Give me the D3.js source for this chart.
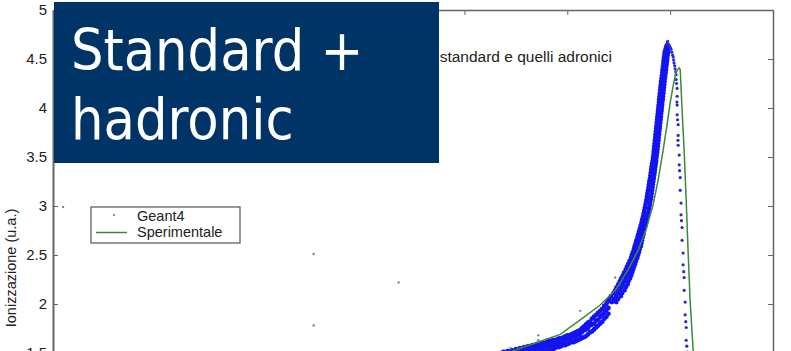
<!DOCTYPE html>
<html><head><meta charset="utf-8">
<script src="https://cdn.jsdelivr.net/npm/d3@7"></script>
<style>html,body{margin:0;padding:0;background:#fff;overflow:hidden}</style>
</head><body>
<svg id="chart" width="791" height="351"></svg>
<script>
// ---------- data ----------
const xTicks = [0, 5, 10, 15, 20, 25, 30, 35];
const yTicks = [1.5, 2, 2.5, 3, 3.5, 4, 4.5, 5];
const titleText = "standard e quelli adronici";
const yLabel = "Ionizzazione (u.a.)";
const legendLabels = ["Geant4", "Sperimentale"];
const overlayLines = ["Standard +", "hadronic"];

// Geant4, low part of the rising band: [x, y1, y2, ...]
const geantLow = [
  [21.4,1.41,1.45,1.48],[21.6,1.43,1.46,1.49],[21.8,1.43,1.47,1.50],[21.9,1.44,1.46,1.51],
  [22.0,1.42,1.48,1.50],[22.1,1.45,1.47,1.52],[22.2,1.44,1.49,1.51],[22.3,1.45,1.48,1.53],
  [22.4,1.46,1.50,1.52],[22.5,1.44,1.49,1.54],[22.6,1.47,1.51,1.53],[22.7,1.45,1.50,1.55],
  [22.8,1.47,1.52,1.54],[22.9,1.48,1.51,1.56],[23.0,1.47,1.53,1.56],[23.1,1.49,1.52,1.57],
  [23.2,1.48,1.54,1.56],[23.3,1.50,1.53,1.58],[23.4,1.49,1.54,1.57],[23.5,1.50,1.55,1.59],
  [23.6,1.51,1.54,1.58],[23.7,1.50,1.56,1.59],[23.8,1.52,1.55,1.60],[23.9,1.51,1.57,1.60],
  [24.0,1.53,1.56,1.61],[24.1,1.52,1.58,1.62],[24.2,1.54,1.57,1.62],[24.3,1.53,1.59,1.63],
  [24.4,1.55,1.58,1.63],[24.5,1.56,1.61,1.64],[24.6,1.56,1.60,1.65],[24.7,1.57,1.62,1.65],
  [24.8,1.58,1.61,1.66],[24.9,1.58,1.63,1.67],[25.0,1.59,1.64,1.68],[25.1,1.60,1.65,1.68],
  [25.2,1.61,1.64,1.69],[25.3,1.61,1.67,1.70],[25.4,1.62,1.66,1.71],[25.5,1.63,1.69,1.72],
  [25.6,1.64,1.68,1.73],[25.7,1.65,1.71,1.75],[25.8,1.66,1.73,1.77],[25.9,1.67,1.74,1.79],
  [26.0,1.69,1.75,1.81],[26.1,1.71,1.78,1.82],[26.2,1.72,1.79,1.85],[26.3,1.74,1.80,1.87],
  [26.4,1.76,1.83,1.89],[26.5,1.78,1.84,1.91],[26.6,1.80,1.87,1.93],[26.7,1.82,1.89,1.95],
  [26.8,1.85,1.91,1.98],[26.9,1.87,1.94,2.00],[27.0,1.90,1.96,2.03]
];
// Geant4, steep part of the rising band: [y, x1, x2, ...]
const geantSteep = [
  [2.02,26.95,27.17,27.38],[2.05,27.05,27.27,27.47],[2.08,27.12,27.37,27.60],[2.11,27.25,27.47,27.66],
  [2.14,27.33,27.55,27.78],[2.17,27.40,27.63,27.84],[2.20,27.48,27.70,27.93],[2.23,27.55,27.77,27.97],
  [2.26,27.62,27.83,28.05],[2.29,27.70,27.90,28.10],[2.32,27.76,27.96,28.15],[2.35,27.84,28.02,28.20],
  [2.38,27.90,28.08,28.25],[2.41,27.97,28.14,28.30],[2.44,28.03,28.19,28.34],[2.47,28.10,28.25,28.40],
  [2.50,28.14,28.30,28.44],[2.53,28.19,28.34,28.49],[2.56,28.24,28.38,28.52],[2.59,28.28,28.43,28.57],
  [2.62,28.33,28.46,28.60],[2.65,28.36,28.50,28.63],[2.68,28.41,28.54,28.66],[2.71,28.45,28.57,28.70],
  [2.74,28.49,28.61,28.72],[2.77,28.53,28.65,28.76],[2.80,28.57,28.69,28.80],[2.83,28.61,28.72,28.83],
  [2.86,28.64,28.75,28.86],[2.89,28.68,28.79,28.89],
  [2.92,28.71,28.92],[2.95,28.74,28.95],[2.98,28.77,28.98],[3.01,28.80,29.01],[3.04,28.83,29.03],
  [3.07,28.86,29.06],[3.10,28.88,29.08],[3.13,28.90,29.10],[3.16,28.93,29.12],[3.19,28.95,29.14],
  [3.22,28.97,29.16],[3.25,28.99,29.18],[3.28,29.02,29.20],[3.31,29.04,29.22],[3.34,29.06,29.24],
  [3.37,29.08,29.26],[3.40,29.10,29.28],[3.43,29.12,29.30],[3.46,29.15,29.32],[3.49,29.17,29.33],
  [3.52,29.19,29.35],[3.55,29.20,29.37],[3.58,29.22,29.38],[3.61,29.23,29.40],[3.64,29.25,29.41],
  [3.67,29.26,29.43],[3.70,29.28,29.44],[3.73,29.29,29.46],[3.76,29.31,29.47],[3.79,29.32,29.49],
  [3.82,29.34,29.50],[3.85,29.35,29.52],[3.88,29.37,29.53],[3.91,29.38,29.55],[3.94,29.40,29.56],
  [3.97,29.41,29.58],[4.00,29.43,29.59],[4.03,29.44,29.61],[4.06,29.46,29.62],[4.09,29.47,29.64],
  [4.12,29.49,29.65],[4.15,29.50,29.67],[4.18,29.52,29.68],[4.21,29.53,29.70],[4.24,29.55,29.71],
  [4.27,29.56,29.73],[4.30,29.58,29.74],[4.33,29.60,29.76],[4.36,29.62,29.78],[4.39,29.63,29.80],
  [4.42,29.65,29.81],[4.45,29.67,29.83],[4.48,29.68,29.85],[4.51,29.70,29.86],[4.54,29.72,29.88],
  [4.57,29.74,29.90],[4.60,29.78,29.91],[4.63,29.82,29.92]
];
// Geant4, peak and falling edge: [x, y]
const geantFall = [
  [29.85,4.66],[29.88,4.68],[29.92,4.65],[29.96,4.63],[30.00,4.62],[30.04,4.60],[30.08,4.57],
  [30.12,4.54],[30.15,4.52],[30.17,4.49],[30.19,4.46],[30.22,4.43],[30.24,4.40],[30.27,4.37],
  [30.29,4.34],[30.29,4.29],[30.31,4.25],[30.34,4.20],[30.34,4.12],[30.33,4.06],[30.34,4.03],
  [30.34,3.93],[30.36,3.88],[30.39,3.83],[30.39,3.72],[30.38,3.67],[30.39,3.62],[30.44,3.52],
  [30.44,3.42],[30.46,3.36],[30.49,3.29],[30.49,3.16],[30.53,3.03],[30.53,2.91],[30.55,2.85],
  [30.58,2.78],[30.58,2.65],[30.63,2.52],[30.63,2.40],[30.66,2.33],[30.68,2.27],[30.68,2.14],
  [30.73,2.02],[30.73,1.89],[30.76,1.82],[30.78,1.76],[30.78,1.63],[30.81,1.57],[30.83,1.51]
];
// Geant4, isolated points
const geantStray = [
  [0.49,2.99],[12.67,2.51],[16.80,2.22],[12.67,1.78],[22.23,1.55],[23.59,1.68],
  [23.59,1.63],[25.63,1.93],[27.33,2.27]
];
// Sperimentale (experimental curve): [x, y]
const sperimentale = [
  [20.78,1.41],[21.75,1.48],[22.48,1.53],[23.69,1.62],[24.66,1.69],[25.78,1.86],[26.60,1.99],
  [27.33,2.14],[27.96,2.35],[28.45,2.55],[28.83,2.76],[29.17,3.01],[29.42,3.27],[29.66,3.57],
  [29.85,3.83],[30.00,4.05],[30.15,4.23],[30.29,4.37],[30.44,4.41],[30.49,4.39],[30.58,3.98],
  [30.68,3.57],[30.78,3.06],[30.87,2.55],[30.97,2.04],[31.12,1.52],[31.26,1.02]
];

// ---------- build point table ----------
const bandPoints = [];
geantLow.forEach(r => { for (let i = 1; i < r.length; i++) bandPoints.push([r[0], r[i]]); });
geantSteep.forEach(r => { for (let i = 1; i < r.length; i++) bandPoints.push([r[i], r[0]]); });

// ---------- chart ----------
const svg = d3.select("#chart");
const x = d3.scaleLinear().domain([0, 35]).range([53, 773]);
const y = d3.scaleLinear().domain([0, 5]).range([500, 10]);
const FONT = "'Liberation Sans', Arial, Helvetica, sans-serif";
const BLUE = "#1414f0";
const GREEN = "#3a8a3a";

svg.append("defs").append("clipPath").attr("id", "plotclip")
  .append("rect").attr("x", x(0)).attr("y", y(5)).attr("width", x(35) - x(0)).attr("height", y(0) - y(5));

const plot = svg.append("g").attr("clip-path", "url(#plotclip)");
plot.selectAll("circle.band").data(bandPoints).join("circle")
  .attr("class", "band")
  .attr("cx", d => x(d[0])).attr("cy", d => y(d[1]))
  .attr("r", 2.4).attr("fill", BLUE);
plot.selectAll("circle.fall").data(geantFall).join("circle")
  .attr("class", "fall")
  .attr("cx", d => x(d[0])).attr("cy", d => y(d[1]))
  .attr("r", 1.6).attr("fill", "#2a2ad0");
plot.selectAll("circle.stray").data(geantStray).join("circle")
  .attr("class", "stray")
  .attr("cx", d => x(d[0])).attr("cy", d => y(d[1]))
  .attr("r", 1.2).attr("fill", "#7c82b4");

plot.append("path").datum(sperimentale)
  .attr("d", d3.line().x(d => x(d[0])).y(d => y(d[1])))
  .attr("fill", "none").attr("stroke", GREEN).attr("stroke-width", 1.5);

// axes
const axStroke = "#666";
const gL = svg.append("g").attr("transform", `translate(${x(0)},0)`)
  .call(d3.axisLeft(y).tickValues(yTicks).tickSizeInner(-5).tickSizeOuter(0).tickPadding(6)
    .tickFormat(d => d3.format("")(d)));
gL.select(".domain").attr("stroke", axStroke).attr("stroke-width", 2);
gL.selectAll(".tick line").attr("stroke", axStroke);
gL.selectAll(".tick text").attr("font-family", FONT).attr("font-size", 15).attr("fill", "#222");

const gR = svg.append("g").attr("transform", `translate(${x(35)},0)`)
  .call(d3.axisRight(y).tickValues(yTicks).tickSizeInner(-5).tickSizeOuter(0).tickFormat(""));
gR.select(".domain").attr("stroke", axStroke).attr("stroke-width", 1.5);
gR.selectAll(".tick line").attr("stroke", axStroke);

const gT = svg.append("g").attr("transform", `translate(0,${y(5)})`)
  .call(d3.axisTop(x).tickValues(xTicks).tickSizeInner(-5).tickSizeOuter(0).tickFormat(""));
gT.select(".domain").attr("stroke", axStroke).attr("stroke-width", 1.5);
gT.selectAll(".tick line").attr("stroke", axStroke);

// y label
svg.append("text").attr("transform", "translate(16,268) rotate(-90)")
  .attr("text-anchor", "middle").attr("font-family", FONT).attr("font-size", 14.5)
  .attr("fill", "#222").text(yLabel);

// title (its beginning is hidden behind the overlay box)
svg.append("text").attr("x", 612).attr("y", 62).attr("text-anchor", "end")
  .attr("font-family", FONT).attr("font-size", 15.5).attr("fill", "#222").text(titleText);

// legend
const lg = svg.append("g");
lg.append("rect").attr("x", 91).attr("y", 207).attr("width", 149).attr("height", 36)
  .attr("fill", "#fff").attr("stroke", "#555").attr("stroke-width", 1.2);
lg.append("circle").attr("cx", 114).attr("cy", 215).attr("r", 1.2).attr("fill", "#8890a8");
lg.append("line").attr("x1", 96).attr("x2", 127).attr("y1", 232.5).attr("y2", 232.5)
  .attr("stroke", GREEN).attr("stroke-width", 1.5);
lg.selectAll("text").data(legendLabels).join("text")
  .attr("x", 137).attr("y", (d, i) => 221 + i * 16)
  .attr("font-family", FONT).attr("font-size", 14.5).attr("fill", "#222").text(d => d);

// overlay box
const ov = svg.append("g");
ov.append("rect").attr("x", 54).attr("y", 2).attr("width", 385).attr("height", 161).attr("fill", "#003366");
ov.selectAll("text").data(overlayLines).join("text")
  .attr("x", 71).attr("y", (d, i) => 70 + i * 69)
  .attr("font-family", "'DejaVu Sans Condensed', 'DejaVu Sans', sans-serif")
  .attr("font-stretch", "condensed")
  .attr("font-size", 57).attr("fill", "#fff").text(d => d);
</script>
</body></html>
